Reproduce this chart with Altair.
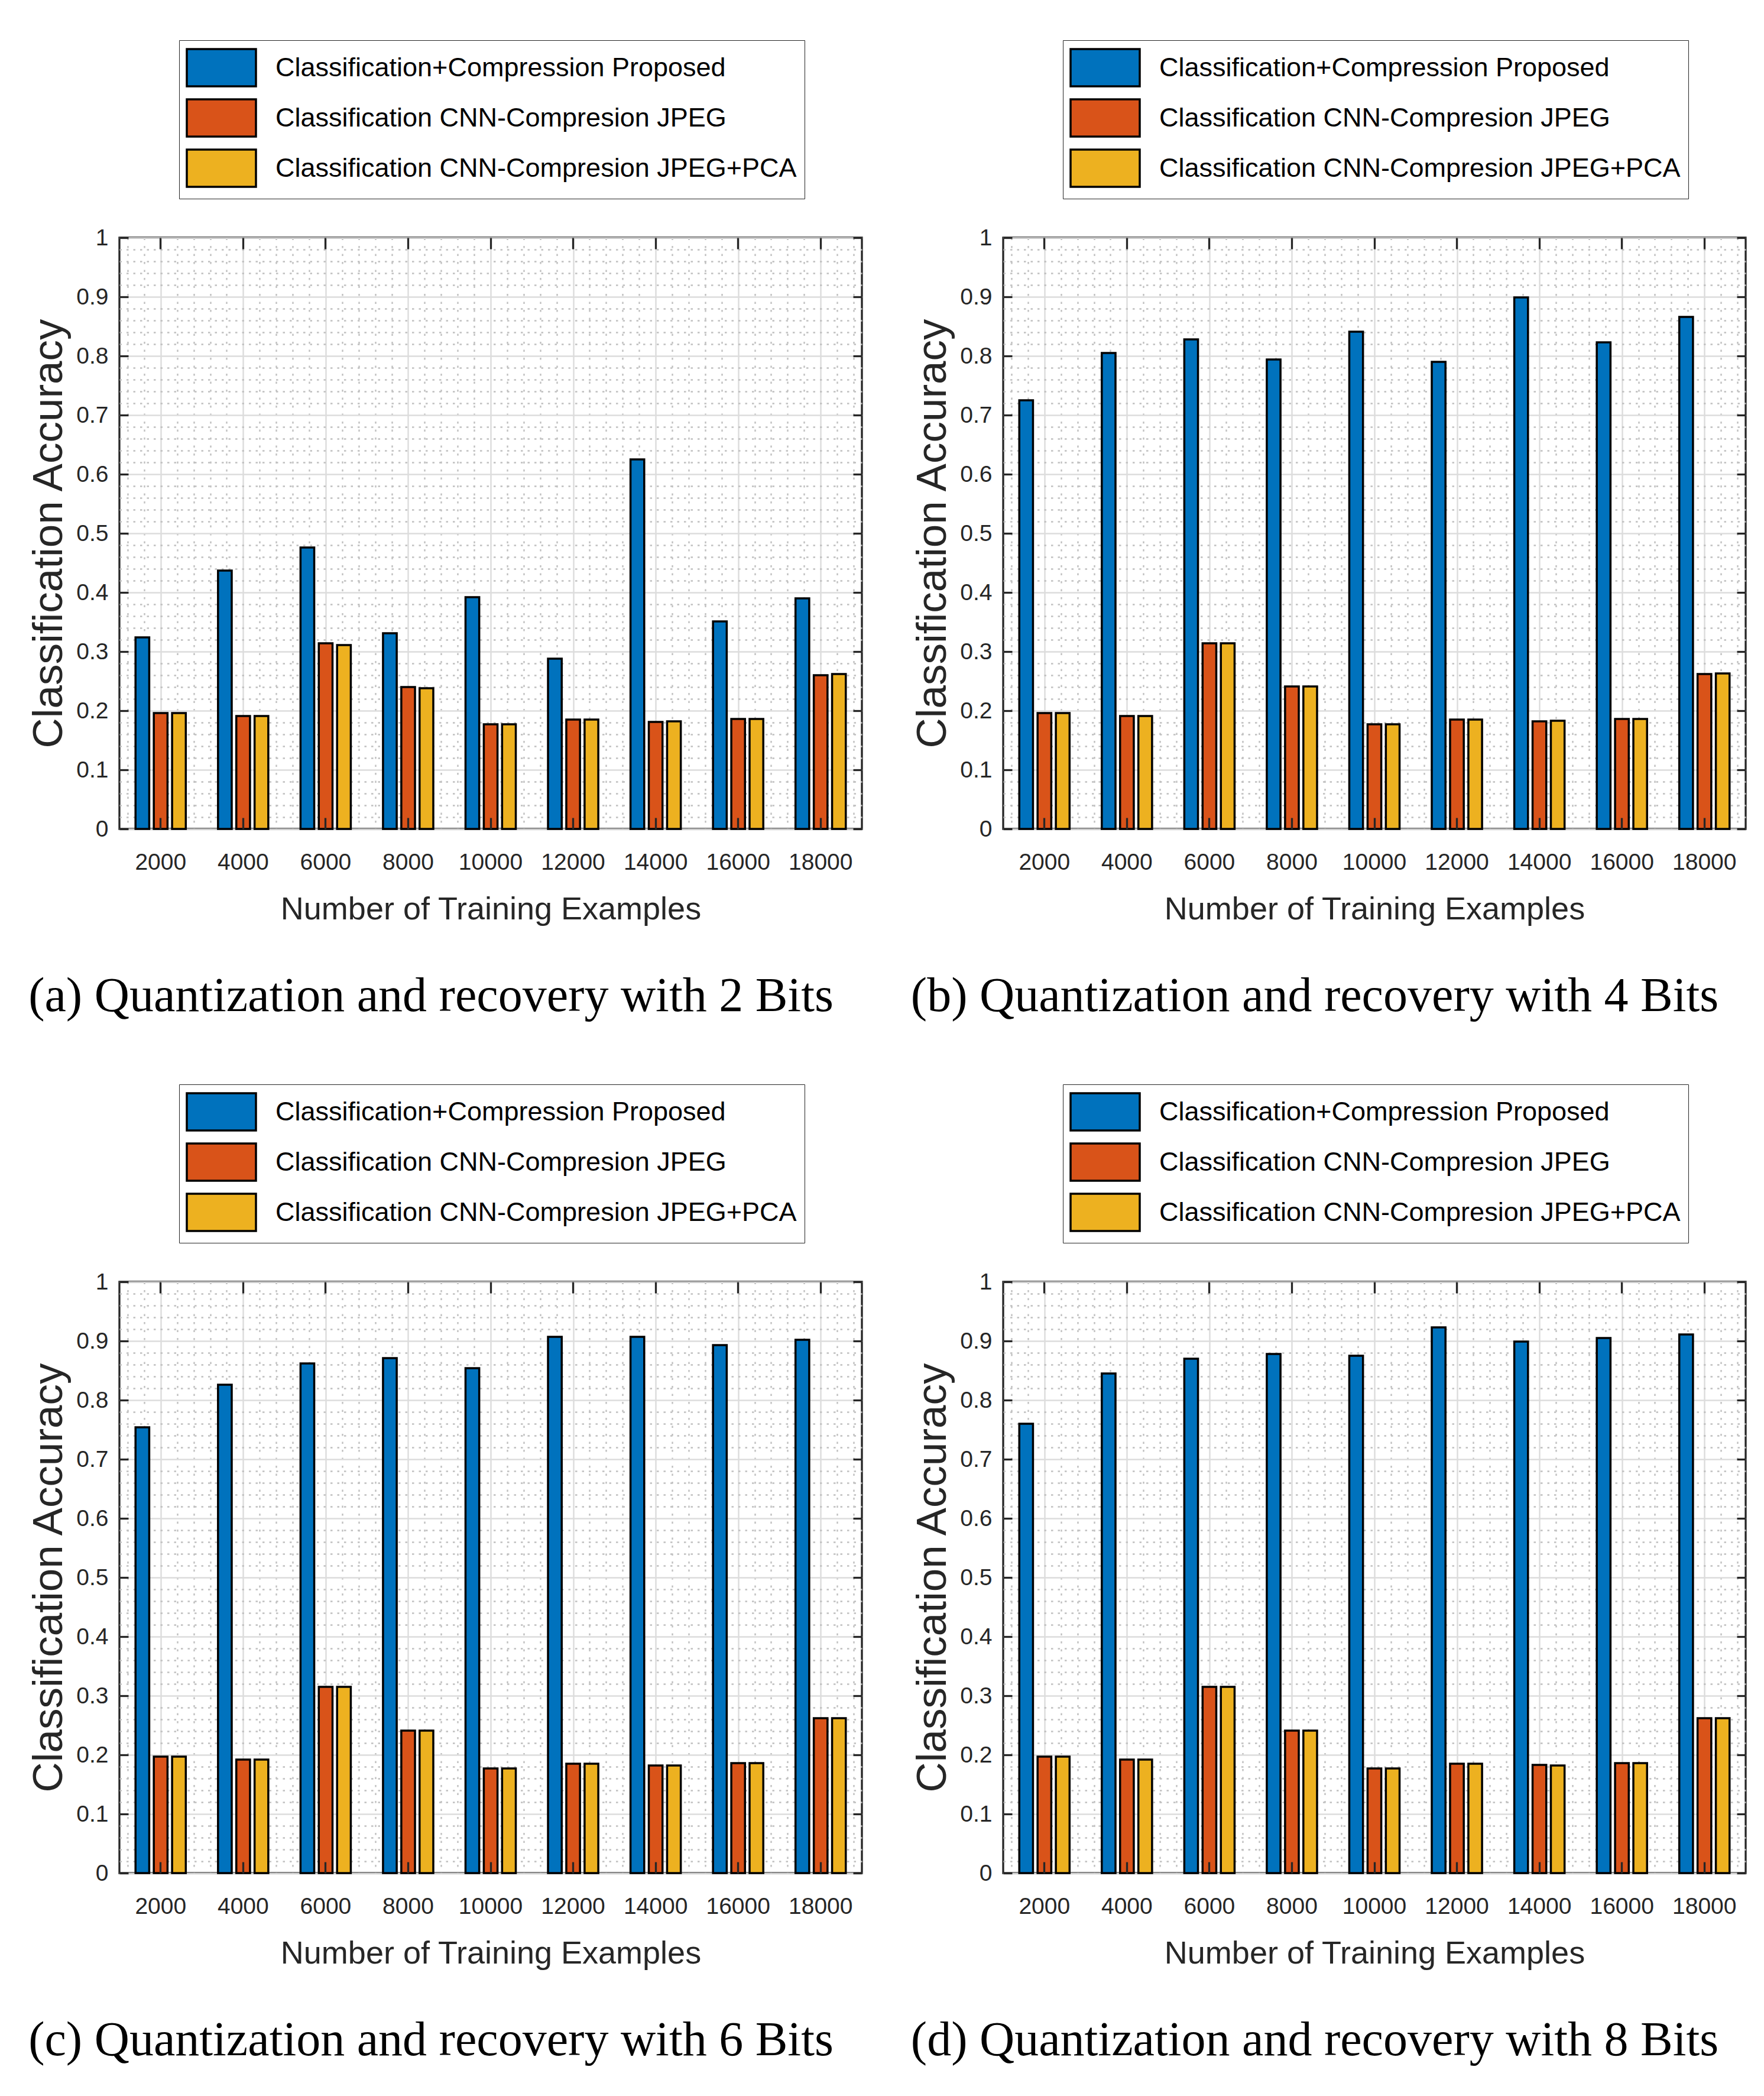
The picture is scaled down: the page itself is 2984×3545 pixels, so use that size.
import altair as alt
import pandas as pd

# ---------------- data ----------------
categories = ["2000", "4000", "6000", "8000", "10000", "12000", "14000", "16000", "18000"]
series = [
    "Classification+Compression Proposed",
    "Classification CNN-Compresion JPEG",
    "Classification CNN-Compresion JPEG+PCA",
]
colors = ["#0072BD", "#D95319", "#EDB120"]

captions = [
    "(a) Quantization and recovery with 2 Bits",
    "(b) Quantization and recovery with 4 Bits",
    "(c) Quantization and recovery with 6 Bits",
    "(d) Quantization and recovery with 8 Bits",
]

a_proposed = [0.324, 0.437, 0.476, 0.331, 0.392, 0.288, 0.625, 0.351, 0.390]
a_jpeg = [0.196, 0.191, 0.314, 0.240, 0.177, 0.185, 0.181, 0.186, 0.260]
a_pca = [0.196, 0.191, 0.311, 0.238, 0.177, 0.185, 0.182, 0.186, 0.262]

b_proposed = [0.725, 0.805, 0.828, 0.794, 0.841, 0.790, 0.899, 0.823, 0.866]
b_jpeg = [0.196, 0.191, 0.314, 0.241, 0.177, 0.185, 0.182, 0.186, 0.262]
b_pca = [0.196, 0.191, 0.314, 0.241, 0.177, 0.185, 0.183, 0.186, 0.263]

c_proposed = [0.754, 0.826, 0.862, 0.871, 0.854, 0.907, 0.907, 0.893, 0.902]
c_jpeg = [0.197, 0.192, 0.315, 0.241, 0.177, 0.185, 0.182, 0.186, 0.262]
c_pca = [0.197, 0.192, 0.315, 0.241, 0.177, 0.185, 0.182, 0.186, 0.262]

d_proposed = [0.760, 0.845, 0.870, 0.878, 0.875, 0.923, 0.899, 0.905, 0.911]
d_jpeg = [0.197, 0.192, 0.315, 0.241, 0.177, 0.185, 0.183, 0.186, 0.262]
d_pca = [0.197, 0.192, 0.315, 0.241, 0.177, 0.185, 0.182, 0.186, 0.262]

panels = [
    (a_proposed, a_jpeg, a_pca),
    (b_proposed, b_jpeg, b_pca),
    (c_proposed, c_jpeg, c_pca),
    (d_proposed, d_jpeg, d_pca),
]

y_major = [0, 0.1, 0.2, 0.3, 0.4, 0.5, 0.6, 0.7, 0.8, 0.9, 1]

# ---------------- style ----------------
SANS = "Liberation Sans"
SERIF = "Liberation Serif"
TEXT = "#262626"
W, H = 1256, 1000

y_minor = [round(i * 0.02, 2) for i in range(51) if i % 5]
x_major = list(range(1, len(categories) + 1))
x_minor = []
for i in range(45):
    v = round(0.6 + 0.2 * i, 1)
    if abs(v - round(v)) > 1e-6:
        x_minor.append(v)

ys = alt.Scale(domain=[0, 1], nice=False, zero=True)
xq = alt.Scale(domain=[0.5, len(categories) + 0.5], nice=False, zero=False)
xb = alt.Scale(type="band", domain=categories, paddingInner=0.335, paddingOuter=0.1675)
xo = alt.Scale(domain=series, paddingInner=0.25, paddingOuter=0.125)

MINOR = "#c0c0c0"
MAJOR = "#dcdcdc"


def make_panel(k):
    vals = panels[k]
    df = pd.DataFrame({
        "cat": categories * 3,
        "idx": list(range(1, len(categories) + 1)) * 3,
        "series": [s for s in series for _ in categories],
        "value": list(vals[0]) + list(vals[1]) + list(vals[2]),
    })
    base = alt.Chart(df)

    g1 = base.mark_point(opacity=0).encode(
        x=alt.X("idx:Q", scale=xq, axis=alt.Axis(
            orient="bottom", values=x_minor, grid=True, gridColor=MINOR, gridWidth=2.4,
            gridDash=[3.5, 10], labels=False, ticks=False, domain=False, title=None)),
        y=alt.Y("value:Q", scale=ys, axis=alt.Axis(
            orient="left", values=y_minor, grid=True, gridColor=MINOR, gridWidth=2.4,
            gridDash=[3.5, 8], labels=False, ticks=False, domain=False, title=None)),
    )

    g2 = base.mark_point(opacity=0).encode(
        x=alt.X("idx:Q", scale=xq, axis=alt.Axis(
            orient="bottom", values=x_major, grid=True, gridColor=MAJOR, gridWidth=2.4,
            labels=False, ticks=False, domain=False, title=None)),
        y=alt.Y("value:Q", scale=ys, axis=alt.Axis(
            orient="left", values=y_major, grid=True, gridColor=MAJOR, gridWidth=2.4,
            format="~g", labelFont=SANS, labelFontSize=39, labelColor=TEXT, labelPadding=19,
            ticks=False, tickSize=0, domain=False,
            title="Classification Accuracy", titleFont=SANS, titleFontSize=71,
            titleColor=TEXT, titleFontWeight="normal", titlePadding=9)),
    )

    bars = base.mark_bar(stroke="black", strokeWidth=3.5, opacity=1).encode(
        x=alt.X("cat:N", scale=xb, sort=categories, axis=alt.Axis(
            orient="bottom", labelAngle=0, labelFont=SANS, labelFontSize=39,
            labelColor=TEXT, labelPadding=37, ticks=False, tickSize=0, domain=False,
            grid=False, title="Number of Training Examples", titleFont=SANS,
            titleFontSize=54, titleColor=TEXT, titleFontWeight="normal", titlePadding=33)),
        xOffset=alt.XOffset("series:N", sort=series, scale=xo),
        y=alt.Y("value:Q", scale=ys, axis=None),
        color=alt.Color("series:N", sort=series, scale=alt.Scale(domain=series, range=colors),
                        legend=alt.Legend(
                            orient="none", legendX=101, legendY=-334, direction="vertical",
                            title=None, symbolType="M-1.857,-1H1.857V1H-1.857Z",
                            symbolSize=3969, symbolStrokeColor="black", symbolStrokeWidth=3.5,
                            symbolOffset=25, symbolOpacity=1, labelFont=SANS,
                            labelFontSize=45, labelColor="black", labelOffset=58,
                            labelLimit=0, rowPadding=8, padding=13, strokeColor=TEXT,
                            fillColor="white")),
    )

    t1 = base.mark_point(opacity=0).encode(
        x=alt.X("cat:N", scale=xb, sort=categories, axis=alt.Axis(
            orient="top", offset=-19, tickSize=19, tickWidth=3.3, tickColor=TEXT,
            labels=False, domain=False, grid=False, title=None, zindex=1)),
        y=alt.Y("value:Q", scale=ys, axis=alt.Axis(
            orient="left", offset=-15, values=y_major, tickSize=15, tickWidth=3.3,
            tickColor=TEXT, labels=False, domain=False, grid=False, title=None, zindex=1)),
    )
    t2 = base.mark_point(opacity=0).encode(
        x=alt.X("cat:N", scale=xb, sort=categories, axis=alt.Axis(
            orient="bottom", offset=-19, tickSize=19, tickWidth=3.3, tickColor=TEXT,
            labels=False, domain=False, grid=False, title=None, zindex=1)),
        y=alt.Y("value:Q", scale=ys, axis=alt.Axis(
            orient="right", offset=-15, values=y_major, tickSize=15, tickWidth=3.3,
            tickColor=TEXT, labels=False, domain=False, grid=False, title=None, zindex=1)),
    )

    return alt.layer(g1, g2, bars, t1, t2).resolve_scale(
        x="independent"
    ).resolve_axis(
        x="independent", y="independent"
    ).properties(
        width=W, height=H,
        title=alt.TitleParams(
            text=captions[k], orient="bottom", anchor="middle", frame="group",
            font=SERIF, fontSize=82, fontWeight="normal", color="black",
            offset=80, dx=-101),
    )


chart = alt.concat(
    *[make_panel(k) for k in range(4)],
    columns=2,
    spacing={"row": 766, "column": 239},
    bounds="flush",
).resolve_scale(
    color="independent", x="independent", y="independent"
).properties(
    autosize=alt.AutoSizeParams(type="none"),
    padding={"left": 194, "top": 394, "right": 2774, "bottom": 3135},
    background="white",
).configure_view(
    stroke=TEXT, strokeWidth=3.3
)

chart.save("out.html", embed_options={"renderer": "svg", "actions": False})
